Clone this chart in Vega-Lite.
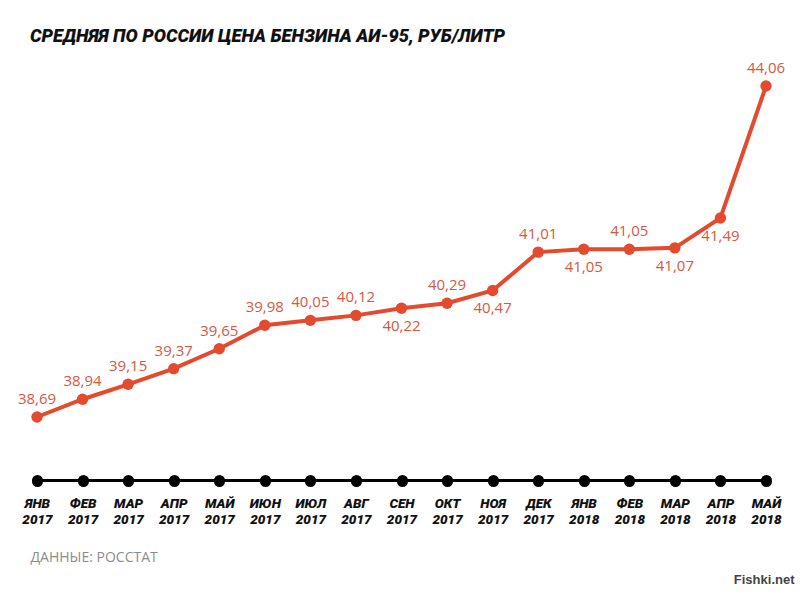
{
  "$schema": "https://vega.github.io/schema/vega-lite/v6.json",
  "width": 800,
  "height": 593,
  "autosize": {"type": "none"},
  "padding": 0,
  "background": "white",
  "config": {
    "view": {"stroke": null},
    "locale": {"number": {"decimal": ",", "thousands": " ", "grouping": [3], "currency": ["", " ₽"]}}
  },
  "title": {
    "text": "СРЕДНЯЯ ПО РОССИИ ЦЕНА БЕНЗИНА АИ-95, РУБ/ЛИТР",
    "anchor": "start",
    "frame": "group",
    "orient": "top",
    "offset": 0,
    "dx": 30,
    "dy": 60,
    "baseline": "alphabetic",
    "font": "Roboto",
    "fontSize": 18.2,
    "fontWeight": 900,
    "fontStyle": "italic",
    "color": "#111111"
  },
  "data": {
    "values": [
      {"month": "ЯНВ 2017", "price": 38.69},
      {"month": "ФЕВ 2017", "price": 38.94},
      {"month": "МАР 2017", "price": 39.15},
      {"month": "АПР 2017", "price": 39.37},
      {"month": "МАЙ 2017", "price": 39.65},
      {"month": "ИЮН 2017", "price": 39.98},
      {"month": "ИЮЛ 2017", "price": 40.05},
      {"month": "АВГ 2017", "price": 40.12},
      {"month": "СЕН 2017", "price": 40.22},
      {"month": "ОКТ 2017", "price": 40.29},
      {"month": "НОЯ 2017", "price": 40.47},
      {"month": "ДЕК 2017", "price": 41.01},
      {"month": "ЯНВ 2018", "price": 41.05},
      {"month": "ФЕВ 2018", "price": 41.05},
      {"month": "МАР 2018", "price": 41.07},
      {"month": "АПР 2018", "price": 41.49},
      {"month": "МАЙ 2018", "price": 44.06}
    ]
  },
  "encoding": {
    "x": {
      "field": "month",
      "type": "ordinal",
      "sort": null,
      "scale": {"type": "point", "range": [37, 766], "padding": 0},
      "axis": {
        "orient": "bottom",
        "offset": -113,
        "domain": true,
        "domainColor": "#000000",
        "domainWidth": 3,
        "ticks": true,
        "tickSize": 1,
        "tickWidth": 11,
        "tickCap": "round",
        "tickColor": "#000000",
        "grid": false,
        "labelAngle": 0,
        "labelExpr": "split(datum.value, ' ')",
        "labelFont": "Roboto",
        "labelFontSize": 13.5,
        "labelFontWeight": 900,
        "labelFontStyle": "italic",
        "labelColor": "#111111",
        "labelLineHeight": 16.5,
        "labelPadding": 15,
        "title": "ДАННЫЕ: РОССТАТ",
        "titleX": 30,
        "titleY": 81,
        "titleAlign": "left",
        "titleAnchor": null,
        "titleBaseline": "alphabetic",
        "titleFont": "Open Sans",
        "titleFontSize": 14,
        "titleFontWeight": "normal",
        "titleColor": "#8c8c8c"
      }
    },
    "y": {
      "field": "price",
      "type": "quantitative",
      "scale": {"domain": [38.69, 41.49, 44.06], "range": [417, 218, 86], "zero": false, "nice": false},
      "axis": {
        "orient": "right",
        "domain": false,
        "ticks": false,
        "labels": false,
        "grid": false,
        "title": "Fishki.net",
        "titleAngle": 0,
        "titleX": -6,
        "titleY": 583,
        "titleAlign": "right",
        "titleAnchor": null,
        "titleBaseline": "alphabetic",
        "titleFont": "Liberation Sans",
        "titleFontSize": 13,
        "titleFontWeight": "bold",
        "titleColor": "#444444"
      }
    }
  },
  "layer": [
    {
      "mark": {"type": "line", "color": "#e34a2e", "strokeWidth": 4}
    },
    {
      "mark": {"type": "point", "filled": true, "size": 130, "color": "#e34a2e", "opacity": 1}
    },
    {
      "transform": [{"filter": {"field": "month", "oneOf": ["ЯНВ 2017", "ФЕВ 2017", "МАР 2017", "АПР 2017", "МАЙ 2017", "ИЮН 2017", "ИЮЛ 2017", "АВГ 2017", "ОКТ 2017", "ДЕК 2017", "ФЕВ 2018", "МАЙ 2018"]}}],
      "mark": {"type": "text", "dy": -18, "font": "Open Sans", "fontSize": 15, "color": "#d9573f", "baseline": "middle"},
      "encoding": {"text": {"field": "price", "type": "quantitative", "format": ".2f"}}
    },
    {
      "transform": [{"filter": {"field": "month", "oneOf": ["СЕН 2017", "НОЯ 2017", "ЯНВ 2018", "МАР 2018", "АПР 2018"]}}],
      "mark": {"type": "text", "dy": 18, "font": "Open Sans", "fontSize": 15, "color": "#d9573f", "baseline": "middle"},
      "encoding": {"text": {"field": "price", "type": "quantitative", "format": ".2f"}}
    }
  ]
}
